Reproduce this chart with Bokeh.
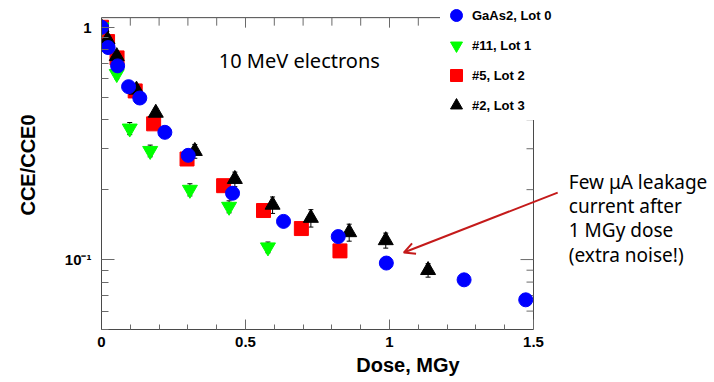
from bokeh.plotting import figure
from bokeh.models import (Range1d, FixedTicker, Legend, LegendItem, Label, Arrow, OpenHead,
                          Whisker, TeeHead, ColumnDataSource, CustomJSTickFormatter)
from bokeh.embed import file_html
from bokeh.resources import INLINE

# ---- data ----
blue_dose = [0.0, 0.023, 0.056, 0.094, 0.133, 0.220, 0.301, 0.455, 0.632, 0.822, 0.989, 1.259, 1.473]
blue_cce = [1.0, 0.818, 0.682, 0.555, 0.496, 0.353, 0.281, 0.193, 0.146, 0.1256, 0.0966, 0.0818, 0.0671]

green_dose = [0.0, 0.053, 0.098, 0.169, 0.307, 0.443, 0.578]
green_cce = [1.0, 0.63, 0.367, 0.294, 0.200, 0.169, 0.113]
green_err = [0.0, 0.03, 0.022, 0.017, 0.012, 0.010, 0.006]

red_dose = [0.0, 0.021, 0.054, 0.117, 0.181, 0.297, 0.424, 0.5625, 0.694, 0.828]
red_cce = [1.0, 0.868, 0.738, 0.532, 0.384, 0.271, 0.208, 0.1626, 0.136, 0.109]
red_err = [0.0, 0.02, 0.02, 0.02, 0.015, 0.012, 0.010, 0.008, 0.006, 0.005]

black_dose = [0.0, 0.021, 0.053, 0.1215, 0.1885, 0.324, 0.463, 0.594, 0.727, 0.860, 0.987, 1.134]
black_cce = [1.0, 0.885, 0.750, 0.538, 0.428, 0.293, 0.222, 0.172, 0.151, 0.131, 0.121, 0.090]
black_err = [0.0, 0.02, 0.02, 0.02, 0.02, 0.02, 0.016, 0.014, 0.013, 0.011, 0.009, 0.006]

x_major = [0, 0.5, 1.0, 1.5]
x_minor = [0.1, 0.2, 0.3, 0.4, 0.6, 0.7, 0.8, 0.9, 1.1, 1.2, 1.3, 1.4]
y_major = [0.1, 1.0]
y_minor = [0.05, 0.06, 0.07, 0.08, 0.09, 0.2, 0.3, 0.4, 0.5, 0.6, 0.7, 0.8, 0.9]

labels = ["GaAs2, Lot 0", "#11, Lot 1", "#5, Lot 2", "#2, Lot 3"]
title_text = "10 MeV electrons"
note_lines = ["Few \u03bcA leakage", "current after", "1 MGy dose", "(extra noise!)"]
note_y = [0.216, 0.1698, 0.1334, 0.1048]

# ---- layout constants ----
X_MIN, X_MAX = 0.0, 1.5          # axis extent
Y_MIN, Y_MAX = 0.05, 1.1
LEFT, BOTTOM = 101, 53
FRAME_W, FRAME_H = 714 - LEFT, 382 - BOTTOM
PX_X = 288.0                      # pixels per MGy
PX_DEC = 232.3                    # pixels per decade
x_end = X_MIN + FRAME_W / PX_X
y_end = Y_MIN * 10 ** (FRAME_H / PX_DEC)

AX = "#4a4a4a"
TK = "#6a6a6a"
FONT = "Liberation Sans"
HAND = "Noto Sans"

p = figure(width=714, height=382, x_range=Range1d(X_MIN, x_end), y_range=Range1d(Y_MIN, y_end),
           y_axis_type="log", output_backend="svg", toolbar_location=None,
           min_border_left=LEFT, min_border_right=0, min_border_top=0, min_border_bottom=BOTTOM,
           x_axis_label="Dose, MGy", y_axis_label="CCE/CCE0")
p.outline_line_color = None
p.xgrid.visible = False
p.ygrid.visible = False
p.background_fill_color = "white"
p.border_fill_color = "white"

# bottom axis
xa = p.xaxis[0]
xa.bounds = (X_MIN, X_MAX)
xa.ticker = FixedTicker(ticks=x_major, minor_ticks=x_minor)
xa.major_tick_in = 10
xa.major_tick_out = 0
xa.minor_tick_in = 5
xa.minor_tick_out = 0
xa.axis_line_color = AX
xa.major_tick_line_color = TK
xa.minor_tick_line_color = TK
xa.major_label_text_font = FONT
xa.major_label_text_font_style = "bold"
xa.major_label_text_font_size = "15px"
xa.major_label_text_color = "black"
xa.major_label_standoff = 7
xa.axis_label_text_font = FONT
xa.axis_label_text_font_style = "bold"
xa.axis_label_text_font_size = "20px"
xa.axis_label_text_color = "black"
xa.axis_label_standoff = 4

# left axis
ya = p.yaxis[0]
ya.bounds = (Y_MIN, Y_MAX)
ya.ticker = FixedTicker(ticks=y_major, minor_ticks=y_minor)
ya.formatter = CustomJSTickFormatter(code="""
const e = Math.round(Math.log10(tick));
if (e == 0) { return "1"; }
const sup = {"-": "\\u207b", "0": "\\u2070", "1": "\\u00b9", "2": "\\u00b2", "3": "\\u00b3",
             "4": "\\u2074", "5": "\\u2075", "6": "\\u2076", "7": "\\u2077", "8": "\\u2078", "9": "\\u2079"};
return "10" + String(e).split("").map(c => sup[c]).join("");
""")
ya.major_tick_in = 13
ya.major_tick_out = 0
ya.minor_tick_in = 7
ya.minor_tick_out = 0
ya.axis_line_color = AX
ya.major_tick_line_color = TK
ya.minor_tick_line_color = TK
ya.major_label_text_font = FONT
ya.major_label_text_font_style = "bold"
ya.major_label_text_font_size = "15px"
ya.major_label_text_color = "black"
ya.major_label_standoff = 10
ya.axis_label_text_font = FONT
ya.axis_label_text_font_style = "bold"
ya.axis_label_text_font_size = "20px"
ya.axis_label_text_color = "black"
ya.axis_label_standoff = 23

# top and right frame lines with inward ticks (mirror of the axes)
p.segment(x0=[X_MIN, X_MAX], y0=[Y_MAX, Y_MIN], x1=[X_MAX, X_MAX], y1=[Y_MAX, Y_MAX],
          line_color=AX, line_width=1)
top_x = x_major + x_minor
top_len = [10] * len(x_major) + [8] * len(x_minor)
p.segment(x0=top_x, y0=[Y_MAX] * len(top_x), x1=top_x,
          y1=[Y_MAX * 10 ** (-L / PX_DEC) for L in top_len], line_color=TK, line_width=1)
right_y = [v for v in y_major + y_minor if Y_MIN < v <= Y_MAX]
right_len = [13 if v in y_major else 7 for v in right_y]
p.segment(x0=[X_MAX] * len(right_y), y0=right_y, x1=[X_MAX - L / PX_X for L in right_len], y1=right_y,
          line_color=TK, line_width=1)

# error bars
def whisk(xs, ys, es):
    src = ColumnDataSource(dict(x=xs, lower=[y - e for y, e in zip(ys, es)],
                                upper=[y + e for y, e in zip(ys, es)]))
    w = Whisker(source=src, base="x", lower="lower", upper="upper", dimension="height",
                line_color="black", line_width=1,
                upper_head=TeeHead(size=5, line_color="black", line_width=1),
                lower_head=TeeHead(size=5, line_color="black", line_width=1))
    p.add_layout(w)

whisk(red_dose, red_cce, red_err)
whisk(green_dose, green_cce, green_err)
whisk(black_dose, black_cce, black_err)

r_red = p.scatter(red_dose, red_cce, marker="square", size=14, fill_color="#ff0000", line_color="#ff0000")
r_green = p.scatter(green_dose, green_cce, marker="inverted_triangle", size=15,
                    fill_color="#00ff00", line_color="#00ff00")
r_black = p.scatter(black_dose, black_cce, marker="triangle", size=15, fill_color="black", line_color="black")
r_blue = p.scatter(blue_dose, blue_cce, marker="circle", size=14, fill_color="#0000ff", line_color="#0000ff")

legend = Legend(items=[LegendItem(label=labels[0], renderers=[r_blue]),
                       LegendItem(label=labels[1], renderers=[r_green]),
                       LegendItem(label=labels[2], renderers=[r_red]),
                       LegendItem(label=labels[3], renderers=[r_black])],
                location=(339, 209), orientation="vertical", glyph_width=32, glyph_height=30,
                label_height=30, spacing=0, label_standoff=0, padding=0, margin=0,
                background_fill_color="white", background_fill_alpha=1.0, border_line_color=None,
                label_text_font=FONT, label_text_font_style="bold", label_text_font_size="13px",
                label_text_color="black")
p.add_layout(legend)

p.add_layout(Label(x=0.407, y=0.7167, text=title_text, text_font=HAND, text_font_size="20px",
                   text_baseline="alphabetic", text_color="black"))
for t, yv in zip(note_lines, note_y):
    p.add_layout(Label(x=1.6226, y=yv, text=t, text_font=HAND, text_font_size="19px",
                       text_baseline="alphabetic", text_color="black"))

ARC = "#c41a1a"
p.add_layout(Arrow(end=OpenHead(size=11, line_color=ARC, line_width=2),
                   x_start=1.584, y_start=0.1942, x_end=1.0497, y_end=0.1072,
                   line_color=ARC, line_width=2))

open("out.html", "w", encoding="utf-8").write(file_html(p, INLINE))
